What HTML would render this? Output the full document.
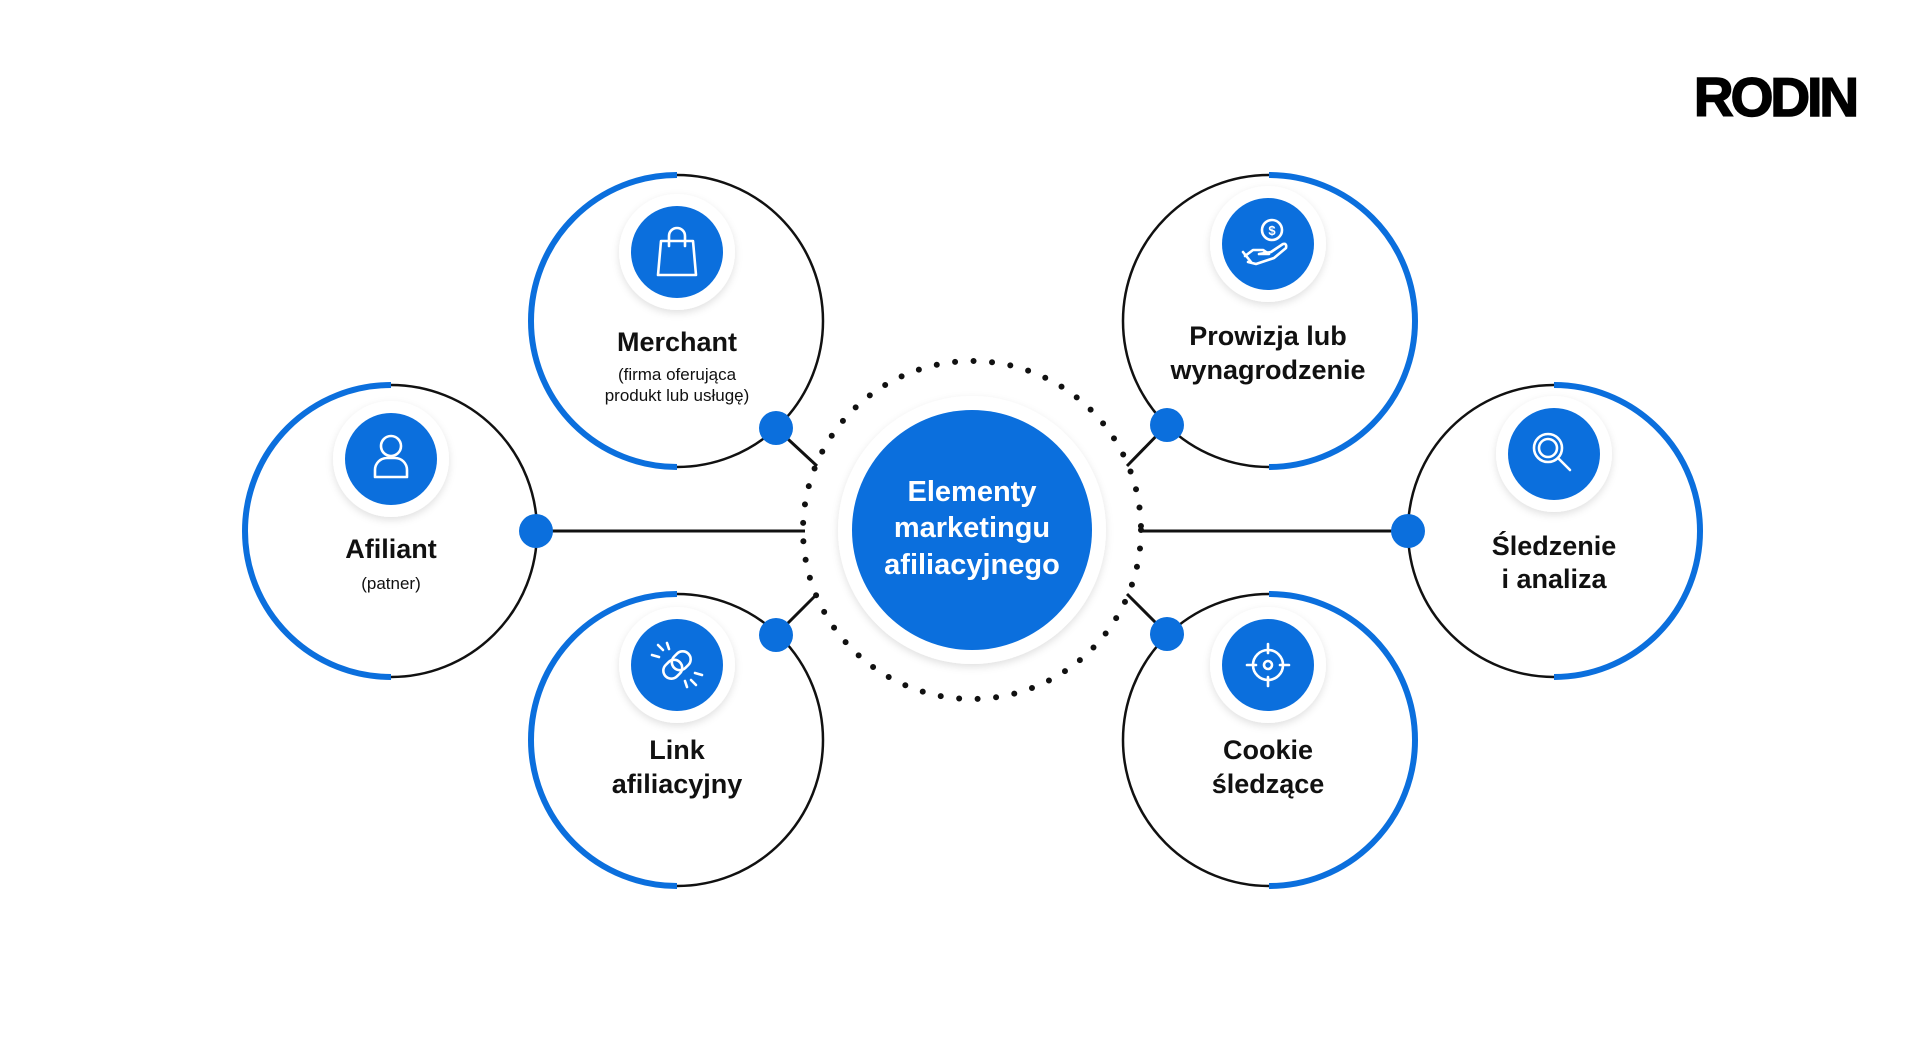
<!DOCTYPE html>
<html><head><meta charset="utf-8"><style>
html,body{margin:0;padding:0;background:#fff;width:1920px;height:1048px;overflow:hidden}
svg{display:block}
text{font-family:"Liberation Sans",sans-serif}
</style></head><body>
<svg width="1920" height="1048" viewBox="0 0 1920 1048" xmlns="http://www.w3.org/2000/svg">
<defs>
<filter id="sh" x="-30%" y="-30%" width="160%" height="160%"><feDropShadow dx="0" dy="3" stdDeviation="4" flood-color="#000" flood-opacity="0.12"/></filter>
</defs>
<text x="1775" y="116" text-anchor="middle" font-size="55" font-weight="900" fill="#000" letter-spacing="-3" stroke="#000" stroke-width="1.5">RODIN</text>

<g stroke="#111" stroke-width="3" fill="none">
<line x1="536" y1="531" x2="805" y2="531"/>
<line x1="776" y1="428" x2="817" y2="466"/>
<line x1="776" y1="635" x2="817" y2="594"/>
<line x1="1408" y1="531" x2="1140" y2="531"/>
<line x1="1167" y1="425" x2="1127" y2="466"/>
<line x1="1167" y1="634" x2="1127" y2="594"/>
</g>

<circle cx="972" cy="530" r="169" fill="none" stroke="#111" stroke-width="6" stroke-linecap="round" stroke-dasharray="0 18.55"/>
<circle cx="972" cy="530" r="134" fill="#fff" filter="url(#sh)"/>
<circle cx="972" cy="530" r="120" fill="#0b6fdd"/>
<g fill="#fff" font-size="29" font-weight="700" text-anchor="middle">
<text x="972" y="501">Elementy</text>
<text x="972" y="537">marketingu</text>
<text x="972" y="574">afiliacyjnego</text>
</g>

<g fill="none">
<circle cx="677" cy="321" r="146" stroke="#111" stroke-width="2.5"/>
<path d="M677 175 A146 146 0 0 0 677 467" stroke="#0b6fdd" stroke-width="6"/>
<circle cx="391" cy="531" r="146" stroke="#111" stroke-width="2.5"/>
<path d="M391 385 A146 146 0 0 0 391 677" stroke="#0b6fdd" stroke-width="6"/>
<circle cx="677" cy="740" r="146" stroke="#111" stroke-width="2.5"/>
<path d="M677 594 A146 146 0 0 0 677 886" stroke="#0b6fdd" stroke-width="6"/>
<circle cx="1269" cy="321" r="146" stroke="#111" stroke-width="2.5"/>
<path d="M1269 175 A146 146 0 0 1 1269 467" stroke="#0b6fdd" stroke-width="6"/>
<circle cx="1554" cy="531" r="146" stroke="#111" stroke-width="2.5"/>
<path d="M1554 385 A146 146 0 0 1 1554 677" stroke="#0b6fdd" stroke-width="6"/>
<circle cx="1269" cy="740" r="146" stroke="#111" stroke-width="2.5"/>
<path d="M1269 594 A146 146 0 0 1 1269 886" stroke="#0b6fdd" stroke-width="6"/>
</g>

<g fill="#0b6fdd">
<circle cx="776" cy="428" r="17"/><circle cx="536" cy="531" r="17"/><circle cx="776" cy="635" r="17"/>
<circle cx="1167" cy="425" r="17"/><circle cx="1408" cy="531" r="17"/><circle cx="1167" cy="634" r="17"/>
</g>

<g>
<circle cx="677" cy="252" r="58" fill="#fff" filter="url(#sh)"/><circle cx="677" cy="252" r="46" fill="#0b6fdd"/>
<circle cx="391" cy="459" r="58" fill="#fff" filter="url(#sh)"/><circle cx="391" cy="459" r="46" fill="#0b6fdd"/>
<circle cx="677" cy="665" r="58" fill="#fff" filter="url(#sh)"/><circle cx="677" cy="665" r="46" fill="#0b6fdd"/>
<circle cx="1268" cy="244" r="58" fill="#fff" filter="url(#sh)"/><circle cx="1268" cy="244" r="46" fill="#0b6fdd"/>
<circle cx="1554" cy="454" r="58" fill="#fff" filter="url(#sh)"/><circle cx="1554" cy="454" r="46" fill="#0b6fdd"/>
<circle cx="1268" cy="665" r="58" fill="#fff" filter="url(#sh)"/><circle cx="1268" cy="665" r="46" fill="#0b6fdd"/>
</g>

<g stroke="#fff" stroke-width="2.6" fill="none" stroke-linecap="round" stroke-linejoin="round">
<path d="M661 241 L693 241 L696 275 L658 275 Z"/><path d="M669 246 V236 A8 8 0 0 1 685 236 V246"/>
<circle cx="391" cy="446" r="10"/><path d="M375 477 V470 A12 12 0 0 1 387 458 H395 A12 12 0 0 1 407 470 V477 Z"/>
<g transform="rotate(-45 677 665)"><rect x="661" y="657" width="20" height="16" rx="8"/><rect x="673" y="657" width="20" height="16" rx="8"/></g>
<path d="M658 645 l5 5 M652 655 l7 2 M696 685 l-5 -5 M702 675 l-7 -2 M667 643 l2 6 M687 687 l-2 -6"/>
<circle cx="1272" cy="230" r="10"/><text x="1272" y="235" font-size="13" fill="#fff" stroke="none" text-anchor="middle" font-weight="700">$</text>
<path d="M1245 256 l8 -6 h10 l6 4 h-10 M1259 254 l12 -2 l12 -8 q4 -1 3 4 l-12 10 l-18 6 l-8 -2"/><path d="M1243 252 l8 10"/>
<circle cx="1548" cy="448" r="14"/><circle cx="1548" cy="448" r="9"/><path d="M1558 458 l12 12"/>
<circle cx="1268" cy="665" r="15"/><circle cx="1268" cy="665" r="4"/><path d="M1268 644 v9 M1268 677 v9 M1247 665 h9 M1280 665 h9"/>
</g>

<g fill="#111" text-anchor="middle">
<text x="677" y="351" font-size="27" font-weight="700">Merchant</text>
<text x="677" y="380" font-size="17">(firma oferująca</text>
<text x="677" y="401" font-size="17">produkt lub usługę)</text>
<text x="391" y="558" font-size="27" font-weight="700">Afiliant</text>
<text x="391" y="589" font-size="17">(patner)</text>
<text x="677" y="759" font-size="27" font-weight="700">Link</text>
<text x="677" y="793" font-size="27" font-weight="700">afiliacyjny</text>
<text x="1268" y="345" font-size="27" font-weight="700">Prowizja lub</text>
<text x="1268" y="379" font-size="27" font-weight="700">wynagrodzenie</text>
<text x="1554" y="555" font-size="27" font-weight="700">Śledzenie</text>
<text x="1554" y="588" font-size="27" font-weight="700">i analiza</text>
<text x="1268" y="759" font-size="27" font-weight="700">Cookie</text>
<text x="1268" y="793" font-size="27" font-weight="700">śledzące</text>
</g>
</svg>
</body></html>
